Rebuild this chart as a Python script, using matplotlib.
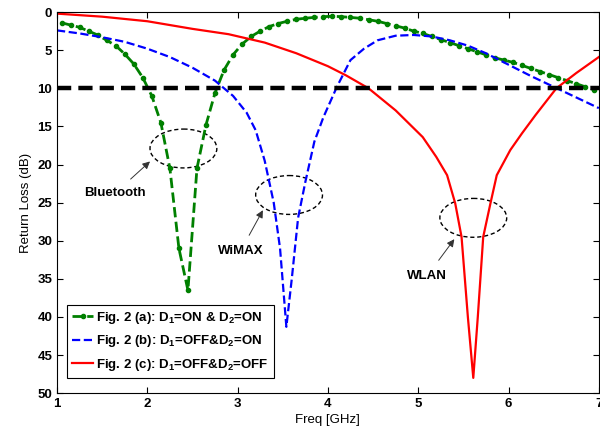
import matplotlib
matplotlib.use("Agg")
import matplotlib.pyplot as plt
from matplotlib.patches import Ellipse

plt.rcParams["font.family"] = ["Liberation Sans", "DejaVu Sans"]
plt.rcParams["mathtext.fontset"] = "custom"
plt.rcParams["mathtext.bf"] = "Liberation Sans:bold"
plt.rcParams["mathtext.rm"] = "Liberation Sans:bold"
plt.rcParams["mathtext.default"] = "bf"

# Fig. 2(a): D1=ON & D2=ON (sampled every 0.1 GHz)
freq_a = [1.05, 1.15, 1.25, 1.35, 1.45, 1.55, 1.65, 1.75, 1.85, 1.95,
          2.05, 2.15, 2.25, 2.35, 2.45, 2.55, 2.65, 2.75, 2.85, 2.95,
          3.05, 3.15, 3.25, 3.35, 3.45, 3.55, 3.65, 3.75, 3.85, 3.95,
          4.05, 4.15, 4.25, 4.35, 4.45, 4.55, 4.65, 4.75, 4.85, 4.95,
          5.05, 5.15, 5.25, 5.35, 5.45, 5.55, 5.65, 5.75, 5.85, 5.95,
          6.05, 6.15, 6.25, 6.35, 6.45, 6.55, 6.65, 6.75, 6.85, 6.95]
rl_a = [1.4, 1.7, 2.0, 2.5, 3.0, 3.7, 4.4, 5.5, 6.8, 8.6,
        11.0, 14.5, 20.5, 31.0, 36.5, 20.5, 14.8, 10.6, 7.6, 5.6,
        4.2, 3.2, 2.5, 1.9, 1.5, 1.2, 0.95, 0.8, 0.7, 0.6,
        0.55, 0.6, 0.7, 0.8, 1.0, 1.2, 1.5, 1.8, 2.1, 2.5,
        2.8, 3.2, 3.6, 4.0, 4.4, 4.8, 5.2, 5.6, 6.0, 6.3,
        6.6, 7.0, 7.4, 7.8, 8.2, 8.6, 9.0, 9.4, 9.8, 10.2]

# Fig. 2(b): D1=OFF & D2=ON
freq_b = [1.0, 1.25, 1.5, 1.75, 2.0, 2.25, 2.5, 2.75, 2.95, 3.1, 3.2, 3.3,
          3.4, 3.47, 3.54, 3.6, 3.67, 3.75, 3.85, 3.95, 4.1, 4.25, 4.4,
          4.55, 4.75, 4.95, 5.15, 5.35, 5.55, 5.75, 6.0, 6.25, 6.5, 6.75, 7.0]
rl_b = [2.4, 2.8, 3.3, 3.9, 4.8, 5.9, 7.3, 9.0, 11.0, 13.2, 15.5, 19.5,
        25.0, 31.0, 41.3, 35.0, 27.0, 22.3, 17.0, 13.8, 9.8, 6.3, 4.8,
        3.7, 3.1, 3.0, 3.2, 3.7, 4.4, 5.4, 6.9, 8.4, 9.8, 11.2, 12.6]

# Fig. 2(c): D1=OFF & D2=OFF
freq_c = [1.0, 1.5, 2.0, 2.5, 2.9, 3.3, 3.65, 4.0, 4.2, 4.45, 4.75, 5.05,
          5.2, 5.32, 5.41, 5.48, 5.55, 5.61, 5.66, 5.72, 5.8, 5.87, 6.02,
          6.15, 6.3, 6.53, 6.75, 7.0]
rl_c = [0.2, 0.6, 1.2, 2.2, 2.9, 4.0, 5.4, 7.1, 8.3, 10.0, 12.9, 16.4,
        19.0, 21.4, 25.1, 29.5, 40.0, 48.0, 40.0, 29.5, 25.1, 21.4, 18.1,
        15.9, 13.5, 10.0, 8.0, 5.9]

labels = [r"Fig. 2 (a): D$_1$=ON & D$_2$=ON",
          r"Fig. 2 (b): D$_1$=OFF&D$_2$=ON",
          r"Fig. 2 (c): D$_1$=OFF&D$_2$=OFF"]

threshold = 10

# band marks: (name, ellipse centre, label position, arrow tip)
bands = ["Bluetooth", "WiMAX", "WLAN"]
band_centers = [(2.40, 17.9), (3.57, 24.0), (5.61, 27.0)]
band_text = [(1.64, 23.8), (3.03, 31.4), (5.10, 34.6)]
band_tip = [(2.03, 19.6), (3.28, 26.0), (5.40, 29.8)]

fig = plt.figure(figsize=(6, 4.32), dpi=100)
ax = fig.add_axes([0.095, 0.09, 0.903, 0.882])

ax.plot(freq_a, rl_a, color="#008000", linestyle="--", linewidth=2,
        marker=".", markersize=6, label=labels[0])
ax.plot(freq_b, rl_b, color="#0000ff", linestyle="--", linewidth=1.6,
        label=labels[1])
ax.plot(freq_c, rl_c, color="#ff0000", linestyle="-", linewidth=1.6,
        label=labels[2])
ax.axhline(threshold, color="black", linewidth=3.2, dashes=(3.2, 1.6))

for name, c, t, tip in zip(bands, band_centers, band_text, band_tip):
    ax.add_patch(Ellipse(c, 0.74, 5.1, fill=False, edgecolor="black",
                         linestyle=(0, (3, 2)), linewidth=1))
    ax.annotate(name, xy=tip, xytext=t, ha="center", va="center",
                fontsize=9.5, fontweight="bold",
                arrowprops=dict(arrowstyle="-|>", color="#333333",
                                lw=0.7, mutation_scale=11,
                                shrinkA=6, shrinkB=0))

ax.set_xlim(1, 7)
ax.set_ylim(50, 0)
ax.set_xticks(range(1, 8))
ax.set_yticks(range(0, 51, 5))
ax.tick_params(direction="in", top=True, right=True, length=4,
               labelsize=9.5)
for lbl in ax.get_xticklabels() + ax.get_yticklabels():
    lbl.set_fontweight("bold")
ax.set_xlabel("Freq [GHz]", fontsize=9.5, labelpad=3)
ax.set_ylabel("Return Loss (dB)", fontsize=9.5, labelpad=4)

leg = ax.legend(loc="lower left", bbox_to_anchor=(0.018, 0.04),
                fancybox=False, edgecolor="black", framealpha=1,
                handlelength=1.6, handletextpad=0.2, borderpad=0.4,
                labelspacing=0.55, borderaxespad=0,
                prop={"weight": "bold", "size": 9.5})
leg.get_frame().set_linewidth(0.8)

fig.savefig("out.png", dpi=100)
